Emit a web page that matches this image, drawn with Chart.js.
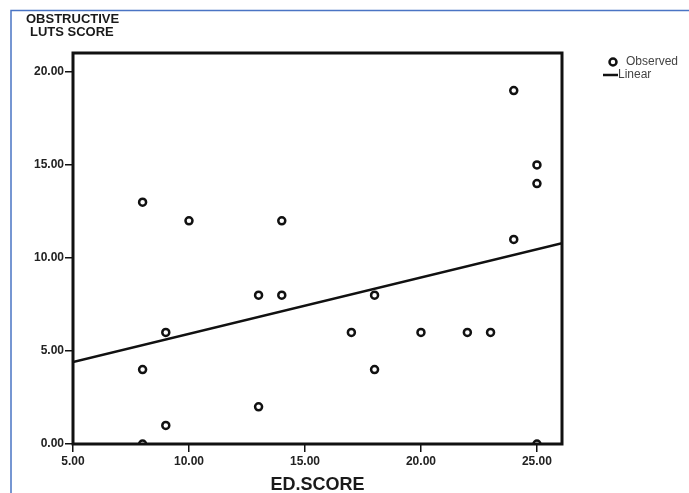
<!DOCTYPE html>
<html>
<head>
<meta charset="utf-8">
<script src="https://cdn.jsdelivr.net/npm/chart.js@4"></script>
<style>
  html, body { margin: 0; padding: 0; background: #fff; }
  #wrap { width: 689px; height: 493px; }
</style>
</head>
<body>
<div id="wrap"><canvas id="grafico" width="689" height="493"></canvas></div>
<script>
// ---- DADOS ----
const edScore   = [8, 10, 14, 8, 8, 9, 9, 13, 14, 13, 17, 18, 18, 20, 22, 23, 24, 24, 25, 25, 25];
const lutsScore = [13, 12, 12, 4, 0, 6, 1, 8, 8, 2, 6, 8, 4, 6, 6, 6, 19, 11, 15, 14, 0];

// linha de ajuste (extremos)
const linearX = [5, 26.08];
const linearY = [4.4, 10.8];

const xTicks = [5, 10, 15, 20, 25];
const yTicks = [0, 5, 10, 15, 20];

const yTitle = ["OBSTRUCTIVE", "LUTS SCORE"];
const xTitle = "ED.SCORE";
const serieNomes = ["Observed", "Linear"];

const observados = edScore.map((x, i) => ({ x: x, y: lutsScore[i] }));
const linha = linearX.map((x, i) => ({ x: x, y: linearY[i] }));

const fonteTick = { family: "'Liberation Sans', Arial, sans-serif", size: 12, weight: "bold" };

// ---- PLUGIN: moldura, titulos e legenda ----
const extras = {
  id: "extras",
  beforeDraw(chart) {
    const ctx = chart.ctx;
    ctx.save();
    ctx.fillStyle = "#fff";
    ctx.fillRect(0, 0, chart.width, chart.height);
    ctx.strokeStyle = "#4a74c4";
    ctx.lineWidth = 1.5;
    ctx.beginPath();
    ctx.moveTo(11, chart.height);
    ctx.lineTo(11, 10.5);
    ctx.lineTo(chart.width, 10.5);
    ctx.stroke();
    ctx.restore();
  },
  afterDraw(chart) {
    const ctx = chart.ctx;
    const a = chart.chartArea;
    ctx.save();

    // moldura do grafico
    ctx.strokeStyle = "#111";
    ctx.lineWidth = 3;
    ctx.strokeRect(a.left, a.top, a.right - a.left, a.bottom - a.top);

    // titulo eixo Y
    ctx.fillStyle = "#1a1a1a";
    ctx.font = "bold 13px 'Liberation Sans', Arial, sans-serif";
    ctx.textBaseline = "middle";
    ctx.textAlign = "left";
    ctx.fillText(yTitle[0], 26, 19);
    ctx.fillText(yTitle[1], 30, 32);

    // titulo eixo X
    ctx.font = "bold 18px 'Liberation Sans', Arial, sans-serif";
    ctx.textAlign = "center";
    ctx.fillText(xTitle, (a.left + a.right) / 2, 485);

    // legenda
    ctx.lineWidth = 2.5;
    ctx.strokeStyle = "#111";
    ctx.fillStyle = "#fff";
    ctx.beginPath();
    ctx.arc(613, 62, 3.5, 0, Math.PI * 2);
    ctx.fill();
    ctx.stroke();
    ctx.beginPath();
    ctx.moveTo(603, 75);
    ctx.lineTo(618, 75);
    ctx.stroke();
    ctx.fillStyle = "#444";
    ctx.font = "12px 'Liberation Sans', Arial, sans-serif";
    ctx.textAlign = "left";
    ctx.fillText(serieNomes[0], 626, 62);
    ctx.fillText(serieNomes[1], 618, 75);

    ctx.restore();
  }
};

new Chart(document.getElementById("grafico"), {
  type: "scatter",
  data: {
    datasets: [
      {
        label: serieNomes[0],
        data: observados,
        pointStyle: "circle",
        pointRadius: 3.5,
        pointBorderWidth: 2.5,
        borderColor: "#111",
        backgroundColor: "#fff",
        clip: 0,
        order: 1
      },
      {
        label: serieNomes[1],
        type: "line",
        data: linha,
        borderColor: "#111",
        borderWidth: 2.5,
        pointRadius: 0,
        fill: false,
        clip: 0,
        order: 2
      }
    ]
  },
  options: {
    responsive: false,
    animation: false,
    layout: { padding: { left: 0, top: 53, right: 127, bottom: 0 } },
    plugins: {
      legend: { display: false },
      tooltip: { enabled: false }
    },
    scales: {
      x: {
        type: "linear",
        min: 5,
        max: 26.08,
        afterBuildTicks: s => { s.ticks = xTicks.map(v => ({ value: v })); },
        afterFit: s => { s.height = 49; },
        border: { display: false },
        grid: { drawOnChartArea: false, drawTicks: true, tickLength: 8, color: "#111", lineWidth: 1.5 },
        ticks: { font: fonteTick, color: "#222", padding: 2, maxRotation: 0, callback: v => v.toFixed(2) }
      },
      y: {
        type: "linear",
        min: 0,
        max: 21.02,
        afterBuildTicks: s => { s.ticks = yTicks.map(v => ({ value: v })); },
        afterFit: s => { s.width = 73; },
        border: { display: false },
        grid: { drawOnChartArea: false, drawTicks: true, tickLength: 8, color: "#111", lineWidth: 1.5 },
        ticks: { font: fonteTick, color: "#222", padding: 1, callback: v => v.toFixed(2) }
      }
    }
  },
  plugins: [extras]
});
</script>
</body>
</html>
